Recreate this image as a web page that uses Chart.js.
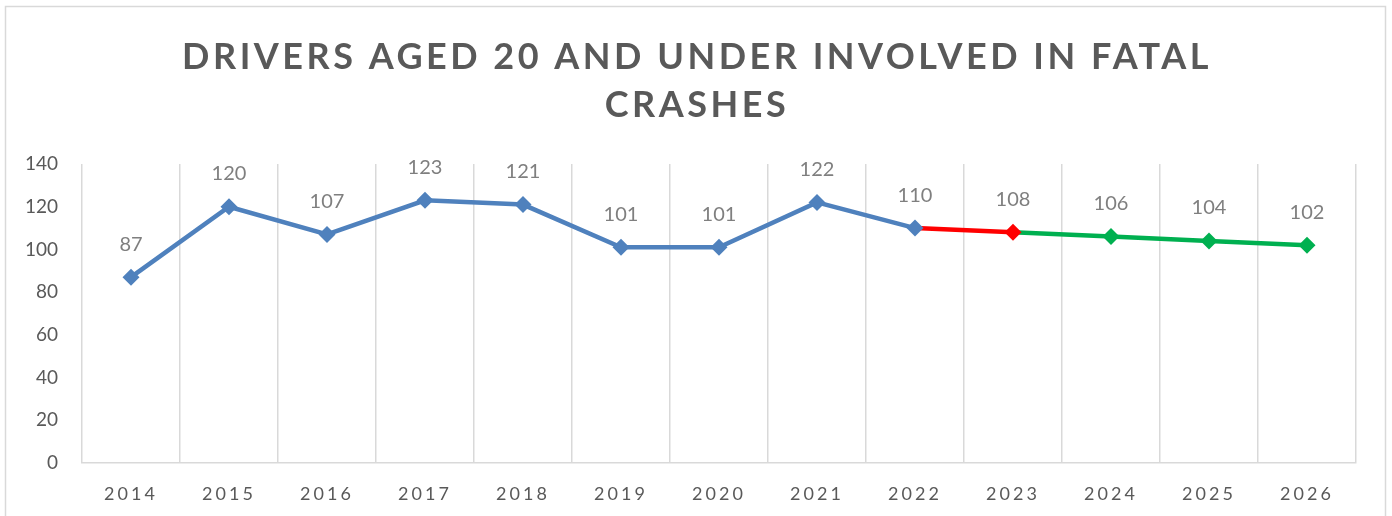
<!DOCTYPE html>
<html>
<head>
<meta charset="utf-8">
<script src="https://cdn.jsdelivr.net/npm/chart.js@4.4.1/dist/chart.umd.min.js"></script>
<style>
  html, body { margin: 0; padding: 0; background: #fff; }
  #wrap { width: 1392px; height: 516px; }
</style>
</head>
<body>
<div id="wrap"><canvas id="crashChart" width="1392" height="516"></canvas></div>
<script>
const years = ["2014", "2015", "2016", "2017", "2018", "2019", "2020", "2021", "2022", "2023", "2024", "2025", "2026"];
const drivers = [87, 120, 107, 123, 121, 101, 101, 122, 110, 108, 106, 104, 102];
const titleLines = ["DRIVERS AGED 20 AND UNDER INVOLVED IN FATAL", "CRASHES"];

const blue = "#4f81bd";
const red = "#ff0000";
const green = "#00b050";
const textGray = "#595959";

// 2014-2022 actual, 2023 red, 2024+ green
const pointColor = (i) => (i <= 8 ? blue : i === 9 ? red : green);

const frame = {
  id: "frame",
  beforeDraw(chart) {
    const ctx = chart.ctx;
    ctx.save();
    ctx.strokeStyle = "#d9d9d9";
    ctx.lineWidth = 1.5;
    ctx.strokeRect(5.5, 6.5, 1380, 530);
    ctx.restore();
    ctx.letterSpacing = "3px";
  },
  afterDatasetsDraw(chart) {
    const ctx = chart.ctx;
    ctx.letterSpacing = "0px";
    const meta = chart.getDatasetMeta(0);
    ctx.save();
    ctx.font = "20px Lato";
    ctx.fillStyle = "#7f7f7f";
    ctx.textAlign = "center";
    ctx.textBaseline = "middle";
    meta.data.forEach((pt, i) => {
      ctx.fillText(String(drivers[i]), pt.x, pt.y - 33);
    });
    ctx.restore();
  },
  afterDraw(chart) {
    const ctx = chart.ctx;
    ctx.save();
    ctx.letterSpacing = "3.5px";
    ctx.font = "bold 36px Lato";
    ctx.fillStyle = textGray;
    ctx.textAlign = "center";
    ctx.textBaseline = "middle";
    titleLines.forEach((line, i) => {
      ctx.fillText(line, 697, 57 + i * 48);
    });
    ctx.restore();
    ctx.letterSpacing = "0px";
  },
};

new Chart(document.getElementById("crashChart"), {
  type: "line",
  data: {
    labels: years,
    datasets: [
      {
        data: drivers,
        borderWidth: 4.5,
        pointStyle: "rectRot",
        pointRadius: 8.5,
        pointHoverRadius: 8.5,
        pointBorderWidth: 0,
        pointBackgroundColor: drivers.map((v, i) => pointColor(i)),
        pointBorderColor: drivers.map((v, i) => pointColor(i)),
        segment: {
          borderColor: (ctx) => pointColor(ctx.p1DataIndex),
        },
        tension: 0,
      },
    ],
  },
  options: {
    responsive: false,
    animation: false,
    layout: { padding: { top: 164, right: 36, left: 0, bottom: 0 } },
    plugins: {
      legend: { display: false },
      title: { display: false },
      tooltip: { enabled: false },
    },
    scales: {
      x: {
        offset: true,
        grid: { offset: true, color: "#d9d9d9", lineWidth: 1.5, drawTicks: false },
        border: { display: true, color: "#d9d9d9", width: 1.5 },
        ticks: { color: textGray, font: { family: "Lato", size: 18 }, padding: 20 },
        afterFit: (scale) => { scale.height = 53; },
      },
      y: {
        min: 0,
        max: 140,
        grid: { display: false, drawTicks: false },
        border: { display: false },
        ticks: { stepSize: 20, color: textGray, font: { family: "Lato", size: 19 }, padding: 24, z: 1 },
        afterFit: (scale) => { scale.width = 82; },
      },
    },
  },
  plugins: [frame],
});
</script>
</body>
</html>
